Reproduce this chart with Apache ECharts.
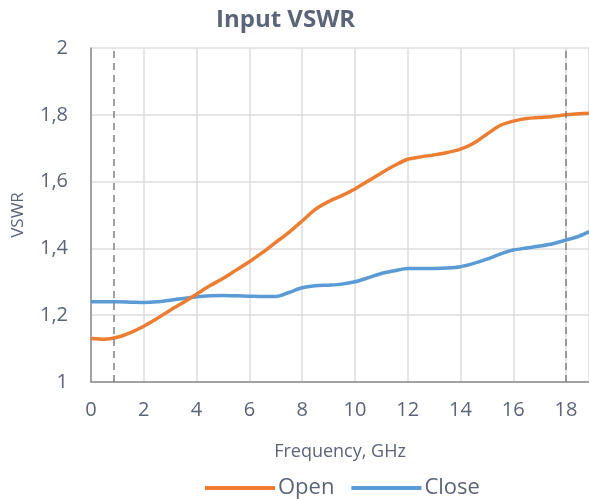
<!DOCTYPE html>
<html>
<head>
<meta charset="utf-8">
<script src="https://cdn.jsdelivr.net/npm/echarts@6/dist/echarts.min.js"></script>
<style>
  html, body { margin: 0; padding: 0; background: #fff; }
  #chart { width: 589px; height: 499px; }
</style>
</head>
<body>
<div id="chart"></div>
<script type="text/javascript">
// frequency points, GHz
var freq = [0, 0.5, 1, 1.5, 2, 2.5, 3, 3.5, 4, 4.5, 5, 5.5, 6, 6.5, 7, 7.5, 8, 8.5, 9, 9.5,
            10, 10.5, 11, 11.5, 12, 12.5, 13, 13.5, 14, 14.5, 15, 15.5, 16, 16.5, 17, 17.5, 18, 18.5, 18.87];
var openVswr = [1.13, 1.128, 1.134, 1.148, 1.167, 1.19, 1.215, 1.238, 1.263, 1.288, 1.31, 1.335, 1.36, 1.388, 1.418, 1.448, 1.482, 1.517, 1.54, 1.558,
                1.578, 1.602, 1.626, 1.648, 1.667, 1.674, 1.68, 1.687, 1.697, 1.715, 1.742, 1.768, 1.781, 1.789, 1.792, 1.795, 1.80, 1.803, 1.805];
var closeVswr = [1.24, 1.24, 1.24, 1.239, 1.238, 1.24, 1.245, 1.25, 1.255, 1.258, 1.259, 1.258, 1.257, 1.256, 1.256, 1.268, 1.282, 1.288, 1.29, 1.293,
                 1.30, 1.312, 1.325, 1.333, 1.34, 1.34, 1.34, 1.341, 1.345, 1.355, 1.368, 1.383, 1.395, 1.401, 1.407, 1.414, 1.425, 1.437, 1.45];
var markers = [0.88, 18];

var txt = '#5b6479';
var chart = echarts.init(document.getElementById('chart'));

function pairs(ys) {
  var out = [];
  for (var i = 0; i < freq.length; i++) out.push([freq[i], ys[i]]);
  return out;
}

var marks = [];
for (var i = 0; i < markers.length; i++) marks.push({ xAxis: markers[i] });

chart.setOption({
  animation: false,
  textStyle: { fontFamily: 'Open Sans' },
  title: {
    text: 'Input VSWR',
    left: 211, top: 3,
    textStyle: { fontSize: 24, fontWeight: 'bold', color: txt, fontFamily: 'Open Sans' }
  },
  legend: {
    data: ['Open', 'Close'],
    left: 200, top: 472,
    icon: 'rect', itemWidth: 70, itemHeight: 4, itemGap: 17,
    textStyle: { fontSize: 22, color: txt, padding: [0, 0, 0, -2] }
  },
  grid: { left: 91, right: 0, top: 48, bottom: 117, containLabel: false },
  xAxis: {
    type: 'value', min: 0, max: 18.87, interval: 2,
    name: 'Frequency, GHz', nameLocation: 'middle', nameGap: 61,
    nameTextStyle: { fontSize: 18, color: txt },
    axisLine: { show: true, lineStyle: { color: '#8c8c8c', width: 1.5 } },
    axisTick: { show: false },
    axisLabel: { fontSize: 20, color: txt, margin: 18, showMaxLabel: false },
    splitLine: { show: true, lineStyle: { color: '#dcdcdc', width: 1.5 } }
  },
  yAxis: {
    type: 'value', min: 1, max: 2, interval: 0.2,
    name: 'VSWR', nameLocation: 'middle', nameGap: 64,
    nameTextStyle: { fontSize: 17, color: txt },
    axisLine: { show: true, lineStyle: { color: '#8c8c8c', width: 1.5 } },
    axisTick: { show: false },
    axisLabel: {
      fontSize: 20, color: txt, margin: 23,
      formatter: function (v) { return String(Math.round(v * 10) / 10).replace('.', ','); }
    },
    splitLine: { show: true, lineStyle: { color: '#dcdcdc', width: 1.5 } }
  },
  series: [
    {
      name: 'Open', type: 'line', data: pairs(openVswr),
      smooth: 0.3, showSymbol: false,
      lineStyle: { color: '#ed7d31', width: 3.5 }, itemStyle: { color: '#ed7d31' },
      markLine: {
        silent: true, symbol: ['none', 'none'], label: { show: false },
        lineStyle: { color: '#808080', type: [7, 5], width: 1.5 },
        data: marks
      },
      z: 3
    },
    {
      name: 'Close', type: 'line', data: pairs(closeVswr),
      smooth: 0.3, showSymbol: false,
      lineStyle: { color: '#5b9bd5', width: 3.5 }, itemStyle: { color: '#5b9bd5' },
      z: 2
    }
  ]
});
</script>
</body>
</html>
